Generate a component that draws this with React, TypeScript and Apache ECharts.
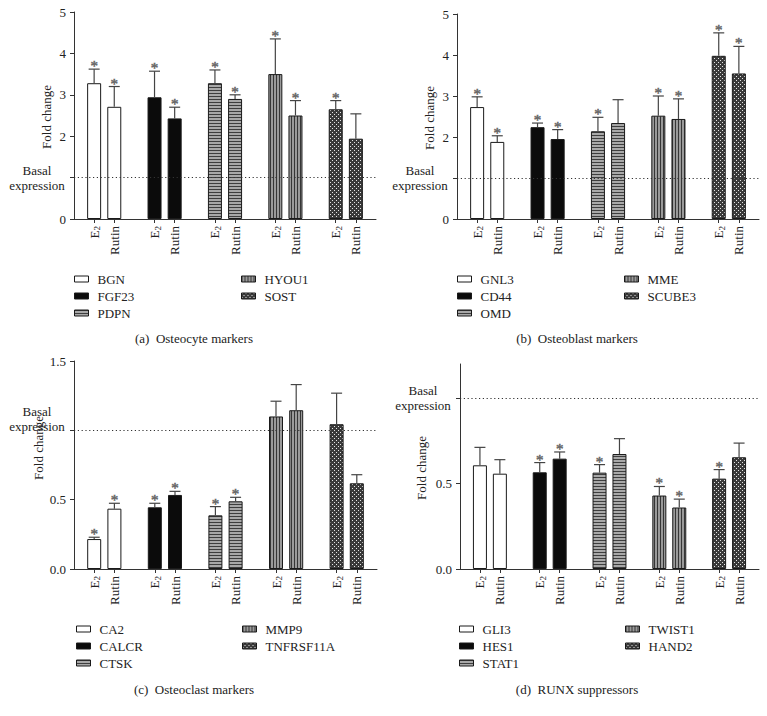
import React, { useEffect, useRef } from 'react';
import * as echarts from 'echarts';

const FONT = 'Liberation Serif, serif';

// ---------- data ----------
const treatments = ['E2', 'Rutin'];

const genesA = ['BGN', 'FGF23', 'PDPN', 'HYOU1', 'SOST'];
const e2A = [3.28, 2.94, 3.28, 3.5, 2.65];
const e2ErrA = [0.34, 0.63, 0.32, 0.85, 0.21];
const rutinA = [2.71, 2.43, 2.9, 2.5, 1.94];
const rutinErrA = [0.49, 0.27, 0.1, 0.36, 0.6];
const e2StarA = [1, 1, 1, 1, 1];
const rutinStarA = [1, 1, 1, 1, 0];

const genesB = ['GNL3', 'CD44', 'OMD', 'MME', 'SCUBE3'];
const e2B = [2.73, 2.24, 2.14, 2.52, 3.98];
const e2ErrB = [0.25, 0.1, 0.34, 0.48, 0.56];
const rutinB = [1.88, 1.95, 2.34, 2.44, 3.55];
const rutinErrB = [0.15, 0.23, 0.57, 0.49, 0.66];
const e2StarB = [1, 1, 1, 1, 1];
const rutinStarB = [1, 1, 0, 1, 1];

const genesC = ['CA2', 'CALCR', 'CTSK', 'MMP9', 'TNFRSF11A'];
const e2C = [0.216, 0.445, 0.387, 1.1, 1.044];
const e2ErrC = [0.013, 0.029, 0.063, 0.11, 0.224];
const rutinC = [0.435, 0.534, 0.488, 1.145, 0.618];
const rutinErrC = [0.039, 0.026, 0.029, 0.185, 0.062];
const e2StarC = [1, 1, 1, 0, 0];
const rutinStarC = [1, 1, 1, 0, 0];

const genesD = ['GLI3', 'HES1', 'STAT1', 'TWIST1', 'HAND2'];
const e2D = [0.607, 0.566, 0.564, 0.43, 0.529];
const e2ErrD = [0.105, 0.057, 0.047, 0.053, 0.053];
const rutinD = [0.558, 0.646, 0.673, 0.36, 0.654];
const rutinErrD = [0.082, 0.039, 0.09, 0.049, 0.083];
const e2StarD = [0, 1, 1, 1, 1];
const rutinStarD = [0, 1, 0, 1, 0];

const yMaxes = [5, 5, 1.5, 1.2];
const yIntervals = [1, 1, 0.5, 0.5];
const yDecimals = [0, 0, 1, 1];
const basalValue = 1;
const captions = [
  '(a)  Osteocyte markers',
  '(b)  Osteoblast markers',
  '(c)  Osteoclast markers',
  '(d)  RUNX suppressors',
];
const yName = 'Fold change';
const basalText = ['Basal', 'expression'];

// ---------- layout ----------
const grids = [
  { left: 74, top: 12, width: 302, height: 207 },
  { left: 457, top: 14, width: 302, height: 205 },
  { left: 74, top: 361, width: 303, height: 208 },
  { left: 460, top: 364, width: 299, height: 205 },
];
const yNamePos = [
  { x: 46, y: 117 },
  { x: 429, y: 118 },
  { x: 38, y: 448 },
  { x: 421, y: 468 },
];
const legendPos = [
  { x1: 74, x2: 241, y: 272 },
  { x1: 457, x2: 624, y: 272 },
  { x1: 76, x2: 242, y: 622 },
  { x1: 459, x2: 625, y: 622 },
];
const captionPos = [
  { x: 194, y: 338 },
  { x: 577, y: 338 },
  { x: 194, y: 689 },
  { x: 577, y: 689 },
];

function makePattern(w: number, h: number, bg: string, fg: string, pix: number[][]) {
  const c = document.createElement('canvas');
  c.width = w;
  c.height = h;
  const ctx = c.getContext('2d')!;
  ctx.fillStyle = bg;
  ctx.fillRect(0, 0, w, h);
  ctx.fillStyle = fg;
  pix.forEach(([x, y, pw, ph]) => ctx.fillRect(x, y, pw, ph));
  return { image: c, repeat: 'repeat', imageWidth: w, imageHeight: h } as any;
}

export default function App() {
  const ref = useRef<HTMLDivElement>(null);
  useEffect(() => {
    if (!ref.current) return;
    const chart = echarts.init(ref.current, undefined, { renderer: 'svg' });

    const fills: any[] = [
      '#ffffff',
      '#0b0b0b',
      makePattern(4, 3, '#a8a8a8', '#3e3e3e', [[0, 0, 4, 1]]),
      makePattern(3, 4, '#9a9a9a', '#363636', [[0, 0, 1, 4]]),
      makePattern(4, 4, '#3a3a3a', '#e6e6e6', [[0, 0, 1, 1], [2, 2, 1, 1]]),
    ];

    const panels = [
      { genes: genesA, e2: e2A, e2Err: e2ErrA, rutin: rutinA, rutinErr: rutinErrA, e2Star: e2StarA, rutinStar: rutinStarA },
      { genes: genesB, e2: e2B, e2Err: e2ErrB, rutin: rutinB, rutinErr: rutinErrB, e2Star: e2StarB, rutinStar: rutinStarB },
      { genes: genesC, e2: e2C, e2Err: e2ErrC, rutin: rutinC, rutinErr: rutinErrC, e2Star: e2StarC, rutinStar: rutinStarC },
      { genes: genesD, e2: e2D, e2Err: e2ErrD, rutin: rutinD, rutinErr: rutinErrD, e2Star: e2StarD, rutinStar: rutinStarD },
    ];

    const xAxes: any[] = [];
    const yAxes: any[] = [];
    const series: any[] = [];
    const legends: any[] = [];
    const graphics: any[] = [];

    panels.forEach((p, pi) => {
      const cats: string[] = ['gap0'];
      p.genes.forEach((g, gi) => {
        treatments.forEach((t) => cats.push(g + '|' + t));
        cats.push('gap' + (gi + 1));
      });
      const slot = (gi: number, ti: number) => 1 + gi * 3 + ti;

      xAxes.push({
        type: 'category',
        gridIndex: pi,
        data: cats,
        boundaryGap: false,
        axisLine: { lineStyle: { color: '#333', width: 1 } },
        axisTick: {
          interval: (_i: number, v: string) => !v.startsWith('gap'),
          length: 4,
          lineStyle: { color: '#333' },
        },
        axisLabel: {
          interval: 0,
          rotate: 90,
          margin: 7,
          fontFamily: FONT,
          fontSize: 13,
          color: '#222',
          formatter: (v: string) => {
            if (v.startsWith('gap')) return '';
            const t = v.split('|')[1];
            return t === 'E2' ? '{e|E}{s|2}' : '{r|' + t + '}';
          },
          rich: {
            e: { fontFamily: FONT, fontSize: 13, color: '#222' },
            r: { fontFamily: FONT, fontSize: 13, color: '#222' },
            s: { fontFamily: FONT, fontSize: 9, color: '#222', verticalAlign: 'bottom', padding: [6, 0, 0, 0] },
          },
        },
        splitLine: { show: false },
      });

      const dec = yDecimals[pi];
      const tickVals: number[] = [];
      for (let v = 0; v <= yMaxes[pi] + 1e-9; v += yIntervals[pi]) tickVals.push(Math.round(v * 100) / 100);
      yAxes.push({
        type: 'value',
        gridIndex: pi,
        min: 0,
        max: yMaxes[pi],
        interval: yIntervals[pi],
        axisLine: { show: true, lineStyle: { color: '#333', width: 1 } },
        axisTick: { show: true, length: 4, lineStyle: { color: '#333' }, customValues: tickVals },
        axisLabel: {
          customValues: tickVals,
          fontFamily: FONT,
          fontSize: 13,
          color: '#222',
          formatter: (v: number) => {
            if (Math.abs(v - basalValue) < 1e-6) {
              return '{b|' + basalText[0] + '}\n{b|' + basalText[1] + '}' + (pi === 2 ? '\n{g| }' : '');
            }
            return '{n|' + v.toFixed(dec) + '}';
          },
          rich: {
            n: { fontFamily: FONT, fontSize: 13, color: '#222' },
            b: { fontFamily: FONT, fontSize: 13, color: '#222', width: 58, align: 'center', lineHeight: 15 },
            g: { fontSize: 2, lineHeight: 22 },
          },
        },
        splitLine: { show: false },
      });

      p.genes.forEach((g, gi) => {
        const data: any[] = cats.map(() => '-');
        data[slot(gi, 0)] = p.e2[gi];
        data[slot(gi, 1)] = p.rutin[gi];
        series.push({
          type: 'bar',
          name: g,
          xAxisIndex: pi,
          yAxisIndex: pi,
          stack: 'panel' + pi,
          barWidth: 14,
          data,
          itemStyle: { color: fills[gi], borderColor: '#1a1a1a', borderWidth: 1 },
        });
      });

      const errData: any[] = [];
      p.genes.forEach((_g, gi) => {
        errData.push([slot(gi, 0), p.e2[gi], p.e2[gi] + p.e2Err[gi], p.e2Star[gi]]);
        errData.push([slot(gi, 1), p.rutin[gi], p.rutin[gi] + p.rutinErr[gi], p.rutinStar[gi]]);
      });
      series.push({
        type: 'custom',
        name: 'err' + pi,
        xAxisIndex: pi,
        yAxisIndex: pi,
        data: errData,
        encode: { x: 0, y: [1, 2] },
        itemStyle: { color: '#6a6a6a' },
        z: 3,
        renderItem: (_params: any, api: any) => {
          const x = api.value(0);
          const m = api.value(1);
          const t = api.value(2);
          const s = api.value(3);
          const a = api.coord([x, m]);
          const b = api.coord([x, t]);
          const children: any[] = [
            { type: 'line', shape: { x1: a[0], y1: a[1], x2: b[0], y2: b[1] }, style: { stroke: '#444', lineWidth: 1.2 } },
            { type: 'line', shape: { x1: b[0] - 5.5, y1: b[1], x2: b[0] + 5.5, y2: b[1] }, style: { stroke: '#444', lineWidth: 1.2 } },
          ];
          if (s) {
            children.push({
              type: 'text',
              x: b[0],
              y: b[1] - 3,
              style: {
                text: '*',
                fill: '#666666',
                stroke: '#666666',
                lineWidth: 0.5,
                font: `15px ${FONT}`,
                align: 'center',
                verticalAlign: 'middle',
              },
            });
          }
          return { type: 'group', children };
        },
        markLine: {
          silent: true,
          symbol: 'none',
          label: { show: false },
          lineStyle: { type: [1.2, 2.6], color: '#333', width: 1 },
          data: [{ yAxis: basalValue }],
        },
      });

      const lp = legendPos[pi];
      const legBase = {
        orient: 'vertical',
        icon: 'rect',
        itemWidth: 14,
        itemHeight: 6,
        itemGap: 3,
        padding: 0,
        selectedMode: false,
        itemStyle: { borderColor: '#1a1a1a', borderWidth: 1 },
        textStyle: { fontFamily: FONT, fontSize: 13, color: '#222', lineHeight: 14, padding: [0, 0, 0, 4] },
      };
      legends.push({ ...legBase, left: lp.x1, top: lp.y, data: p.genes.slice(0, 3) });
      legends.push({ ...legBase, left: lp.x2, top: lp.y, data: p.genes.slice(3) });

      graphics.push({
        type: 'text',
        x: yNamePos[pi].x,
        y: yNamePos[pi].y,
        rotation: Math.PI / 2,
        style: {
          text: yName,
          font: `13px ${FONT}`,
          fill: '#222',
          align: 'center',
          verticalAlign: 'middle',
        },
      });
      graphics.push({
        type: 'text',
        x: captionPos[pi].x,
        y: captionPos[pi].y,
        style: {
          text: captions[pi],
          font: `13px ${FONT}`,
          fill: '#222',
          align: 'center',
          verticalAlign: 'middle',
        },
      });
    });

    chart.setOption({
      animation: false,
      backgroundColor: '#ffffff',
      textStyle: { fontFamily: FONT },
      grid: grids.map((g) => ({ ...g, containLabel: false })),
      xAxis: xAxes,
      yAxis: yAxes,
      legend: legends,
      series,
      graphic: graphics,
    });

    return () => chart.dispose();
  }, []);

  return (
    <div
      ref={ref}
      style={{ position: 'absolute', left: 0, top: 0, width: 767, height: 716, background: '#fff' }}
    />
  );
}
